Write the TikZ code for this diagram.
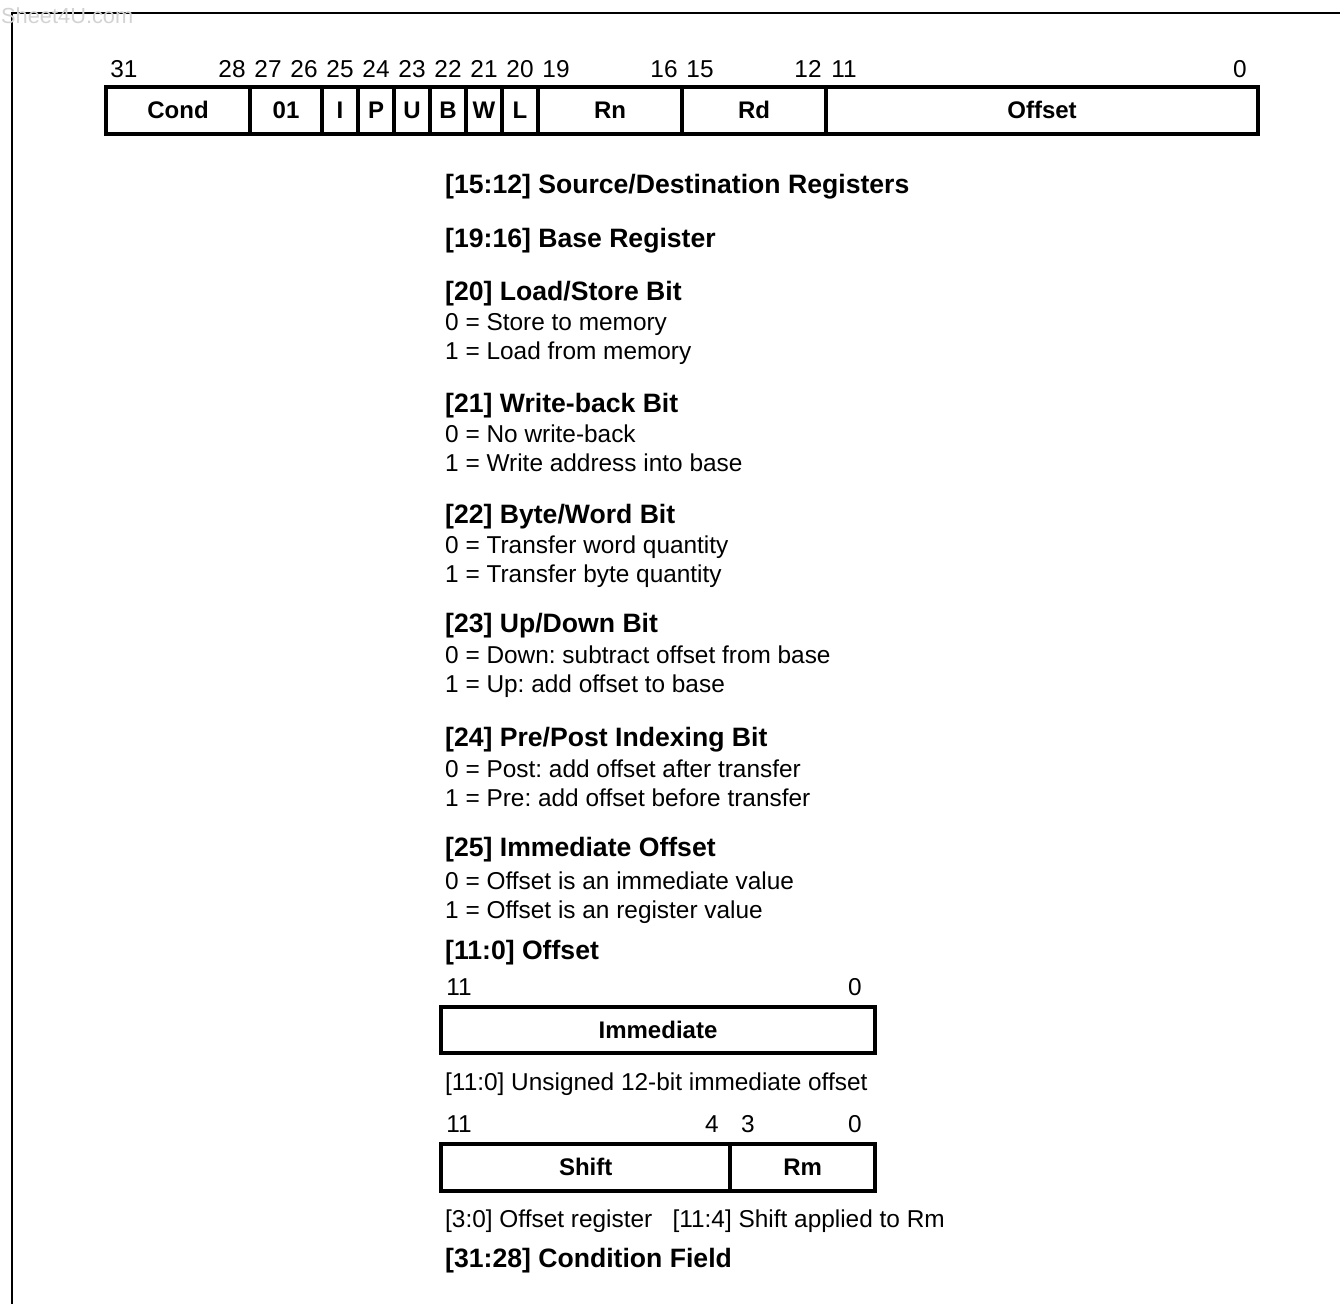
\documentclass[tikz,border=0pt]{standalone}
\usepackage{fontspec}
\setmainfont{Liberation Sans}
\frenchspacing
\usetikzlibrary{positioning}
\tikzset{
  campo/.style={draw, line width=4pt, minimum width=#1, minimum height=47pt, inner sep=0pt, outer sep=0pt, font=\fontsize{24}{28}\selectfont\bfseries},
  campo/.default=36pt,
  numero/.style={inner sep=0pt, anchor=base, font=\fontsize{24.4}{28}\selectfont},
  titulo/.style={inner sep=0pt, anchor=base west, font=\fontsize{26.6}{30}\selectfont\bfseries},
  texto/.style={inner sep=0pt, anchor=base west, font=\fontsize{24.4}{28}\selectfont},
}
\begin{document}
\begin{tikzpicture}[x=1pt, y=-1pt]
  \useasboundingbox (0,0) rectangle (1340,1304);
  \draw[line width=1.7pt] (12,1304) -- (12,13) -- (1340,13);
  \node[inner sep=0pt, anchor=west, text=gray!35, font=\fontsize{21.8}{26}\selectfont] (marca) at (1,16) {Sheet4U.com};
  % instruction word
  \node[campo=144pt] (cond) at (178,110) {Cond};
  \node[campo=72pt, right=0pt of cond] (op) {01};
  \node[campo, right=0pt of op] (i) {I};
  \node[campo, right=0pt of i] (p) {P};
  \node[campo, right=0pt of p] (u) {U};
  \node[campo, right=0pt of u] (b) {B};
  \node[campo, right=0pt of b] (w) {W};
  \node[campo, right=0pt of w] (l) {L};
  \node[campo=144pt, right=0pt of l] (rn) {Rn};
  \node[campo=144pt, right=0pt of rn] (rd) {Rd};
  \node[campo=432pt, right=0pt of rd] (off) {Offset};
  \foreach \b in {31,28,27,26,25,24,23,22,21,20,19,16,15,12,11,0}
    \node[numero] (n\b) at ({106+(31-\b)*36+18},77) {\b};
  % field descriptions
  \node[titulo] (t1) at (445,193) {[15:12] Source/Destination Registers};
  \node[titulo] (t2) at (445,247) {[19:16] Base Register};
  \node[titulo] (t3) at (445,300) {[20] Load/Store Bit};
  \node[texto] (t3a) at (445,330) {0 = Store to memory};
  \node[texto] (t3b) at (445,359) {1 = Load from memory};
  \node[titulo] (t4) at (445,412) {[21] Write-back Bit};
  \node[texto] (t4a) at (445,442) {0 = No write-back};
  \node[texto] (t4b) at (445,471) {1 = Write address into base};
  \node[titulo] (t5) at (445,523) {[22] Byte/Word Bit};
  \node[texto] (t5a) at (445,553) {0 = Transfer word quantity};
  \node[texto] (t5b) at (445,582) {1 = Transfer byte quantity};
  \node[titulo] (t6) at (445,632) {[23] Up/Down Bit};
  \node[texto] (t6a) at (445,663) {0 = Down: subtract offset from base};
  \node[texto] (t6b) at (445,692) {1 = Up: add offset to base};
  \node[titulo] (t7) at (445,746) {[24] Pre/Post Indexing Bit};
  \node[texto] (t7a) at (445,777) {0 = Post: add offset after transfer};
  \node[texto] (t7b) at (445,806) {1 = Pre: add offset before transfer};
  \node[titulo] (t8) at (445,856) {[25] Immediate Offset};
  \node[texto] (t8a) at (445,889) {0 = Offset is an immediate value};
  \node[texto] (t8b) at (445,918) {1 = Offset is an register value};
  \node[titulo] (t9) at (445,959) {[11:0] Offset};
  % offset formats
  \node[numero] (m11) at (459,995) {11};
  \node[numero] (m0) at (855,995) {0};
  \node[campo=434pt, minimum height=46pt] (imm) at (658,1030) {Immediate};
  \node[texto] (c1) at (445,1090) {[11:0] Unsigned 12-bit immediate offset};
  \node[numero] (k11) at (459,1132) {11};
  \node[numero] (k4) at (712,1132) {4};
  \node[numero] (k3) at (748,1132) {3};
  \node[numero] (k0) at (855,1132) {0};
  \node[campo=289.3pt] (sh) at (585.7,1167) {Shift};
  \node[campo=144.7pt, right=0pt of sh] (rm) {Rm};
  \node[texto] (c2) at (445,1227) {[3:0] Offset register\ \ \ [11:4] Shift applied to Rm};
  \node[titulo] (t10) at (445,1267) {[31:28] Condition Field};
\end{tikzpicture}
\end{document}
